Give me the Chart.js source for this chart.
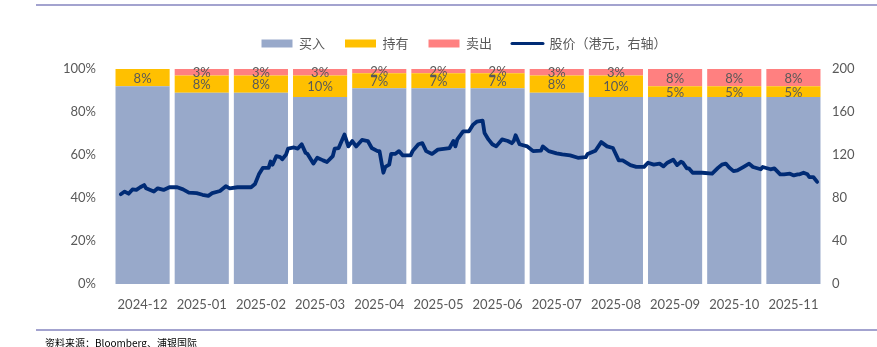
<!DOCTYPE html>
<html>
<head>
<meta charset="utf-8">
<script src="https://cdn.jsdelivr.net/npm/chart.js@4.4.1/dist/chart.umd.min.js"></script>
<style>
  html, body { margin: 0; padding: 0; background: #fff; }
  #wrap { position: relative; width: 877px; height: 347px; overflow: hidden; }
  #chart { position: absolute; left: 0; top: 0; }
  .rule { position: absolute; left: 36px; right: 0; height: 2px; background: #a3a3cf; }
  #source { position: absolute; left: 45px; top: 335px; font: 10px "Noto Sans CJK SC", sans-serif; color: #000; white-space: nowrap; }
</style>
</head>
<body>
<div id="wrap">
  <div class="rule" style="top:4px"></div>
  <canvas id="chart" width="877" height="347"></canvas>
  <div class="rule" style="top:329px"></div>
  <div id="source">资料来源：Bloomberg、浦银国际</div>
</div>
<script>
// Monthly analyst rating mix (%)
const categories = ['2024-12', '2025-01', '2025-02', '2025-03', '2025-04', '2025-05',
                    '2025-06', '2025-07', '2025-08', '2025-09', '2025-10', '2025-11'];
const buyPct  = [92, 89, 89, 87, 91, 91, 91, 89, 87, 87, 87, 87];
const holdPct = [8, 8, 8, 10, 7, 7, 7, 8, 10, 5, 5, 5];
const sellPct = [0, 3, 3, 3, 2, 2, 2, 3, 3, 8, 8, 8];

// Share price (HKD), keyed by days since 2024-12-01
const priceDay = [4, 6, 8, 10, 12, 14, 16, 17, 21, 23, 26, 29, 33, 36, 39, 43, 46, 49, 51, 55,
  58, 60, 64, 71, 73, 75, 77, 80, 81, 82, 84, 86, 87, 89, 90, 93, 95, 97, 99, 100,
  103, 105, 108, 110, 113, 114, 116, 119, 121, 123, 125, 128, 131, 133, 136, 137, 139, 140, 142, 143,
  145, 147, 149, 153, 154, 157, 159, 161, 164, 167, 173, 175, 176, 177, 180, 183, 185, 187, 190, 191,
  193, 195, 197, 200, 203, 205, 206, 207, 209, 213, 216, 220, 221, 224, 228, 231, 235, 239, 243, 244,
  248, 251, 254, 257, 260, 262, 266, 269, 273, 275, 278, 281, 283, 285, 288, 290, 292, 293, 295, 296,
  298, 303, 308, 311, 313, 315, 317, 319, 321, 324, 327, 329, 333, 334, 338, 340, 343, 345, 348, 350,
  352, 353, 355, 357, 358, 360, 362];
const price = [83.5, 86, 84, 88, 87.5, 90, 92, 89, 86, 89, 87.5, 90, 90, 88, 85, 84.5, 83, 82, 84.5, 86.5,
  91, 89, 90, 90, 93, 102, 108, 108, 114, 111, 119, 118, 116, 120.5, 126, 127, 126, 130, 122, 121,
  112, 117.5, 115, 113.5, 119, 126, 126.5, 139, 128, 133, 128, 134, 133, 126.5, 123.6, 123.6, 103.5, 109, 111, 121,
  121, 123.6, 119.6, 119.6, 123.6, 130, 131, 123.6, 121, 125, 126.5, 133, 128, 134.5, 142, 142, 148, 151, 152, 140.5,
  134.5, 130, 128, 134.5, 133, 131, 133, 138.4, 130, 128, 123.6, 124, 128, 123.6, 121.5, 120.5, 119.6, 117.4, 118, 121,
  124, 132, 128, 126.5, 115, 115, 110.6, 109, 109, 112.8, 111, 112, 109.4, 112.8, 115.6, 110.6, 113.7, 112.8, 107.6, 107.6,
  103.5, 103.5, 102.6, 108, 111, 112, 108, 105, 105.7, 108.8, 112, 108.8, 106.7, 108.8, 106.7, 107.6, 102, 102, 102.6, 101,
  102, 102, 103.5, 102, 99.5, 99.5, 95];

const TEXT = '#595959';
const tickFont = { family: 'Lato', size: 13 };

// Percentage labels inside the hold / sell segments
const segmentLabels = {
  id: 'segmentLabels',
  afterDatasetsDraw(chart) {
    const ctx = chart.ctx;
    ctx.save();
    ctx.font = '13px Lato';
    ctx.fillStyle = TEXT;
    ctx.textAlign = 'center';
    ctx.textBaseline = 'middle';
    chart.data.datasets.forEach((ds, di) => {
      if (!ds.showValues) return;
      const meta = chart.getDatasetMeta(di);
      meta.data.forEach((bar, i) => {
        const v = ds.data[i];
        if (!v) return;
        const yc = (bar.y + bar.base) / 2;
        ctx.fillText(v + '%', bar.x, yc + 1);
      });
    });
    ctx.restore();
  }
};

// Extra room below the legend row
const legendGap = {
  id: 'legendGap',
  beforeLayout(chart) {
    const lg = chart.legend;
    if (lg && !lg._gapPatched) {
      const fit = lg.fit;
      lg.fit = function () { fit.call(this); this.height += 9; };
      lg._gapPatched = true;
    }
  }
};

const barCommon = { categoryPercentage: 1, barPercentage: 0.915, grouped: false, order: 1,
                    xAxisID: 'x', yAxisID: 'y' };

new Chart(document.getElementById('chart'), {
  data: {
    labels: categories,
    datasets: [
      Object.assign({ type: 'bar', label: '买入', data: buyPct, backgroundColor: '#98a9ca' }, barCommon),
      Object.assign({ type: 'bar', label: '持有', data: holdPct, backgroundColor: '#ffc000', showValues: true }, barCommon),
      Object.assign({ type: 'bar', label: '卖出', data: sellPct, backgroundColor: '#ff8080', showValues: true }, barCommon),
      { type: 'line', label: '股价（港元，右轴）',
        data: priceDay.map((d, i) => ({ x: d, y: price[i] })),
        borderColor: '#002b75', borderWidth: 3.8, pointRadius: 0, tension: 0,
        borderJoinStyle: 'round', borderCapStyle: 'round',
        order: 0, xAxisID: 'x2', yAxisID: 'y1' }
    ]
  },
  options: {
    responsive: false,
    animation: false,
    events: [],
    layout: { padding: { left: 51, right: 0, top: 17, bottom: 24 } },
    scales: {
      x: {
        type: 'category', stacked: true, offset: true,
        grid: { display: false, drawTicks: false }, border: { display: false },
        ticks: { font: tickFont, color: TEXT, padding: 13, maxRotation: 0, autoSkip: false },
        afterFit(s) { s.height = 39; }
      },
      x2: { type: 'linear', display: false, min: 0, max: 365, offset: false },
      y: {
        position: 'left', stacked: true, min: 0, max: 100,
        grid: { display: false, drawTicks: false }, border: { display: false },
        ticks: { stepSize: 20, font: tickFont, color: TEXT, padding: 17, callback: v => v + '%' },
        afterFit(s) { s.width = 62; }
      },
      y1: {
        position: 'right', min: 0, max: 200,
        grid: { display: false, drawTicks: false }, border: { display: false },
        ticks: { stepSize: 40, font: tickFont, color: TEXT, padding: 9 },
        afterFit(s) { s.width = 54; }
      }
    },
    plugins: {
      tooltip: { enabled: false },
      legend: {
        position: 'top',
        labels: {
          font: { family: '"Noto Sans CJK SC"', size: 13 },
          color: TEXT,
          usePointStyle: true,
          pointStyleWidth: 31,
          boxHeight: 8,
          padding: 20,
          sort: (a, b) => a.datasetIndex - b.datasetIndex,
          generateLabels(chart) {
            return chart.data.datasets.map((ds, i) => {
              const isLine = ds.type === 'line';
              return {
                text: ds.label,
                datasetIndex: i,
                fillStyle: isLine ? ds.borderColor : ds.backgroundColor,
                strokeStyle: isLine ? ds.borderColor : ds.backgroundColor,
                lineWidth: isLine ? 3 : 0,
                lineCap: 'round',
                pointStyle: isLine ? 'line' : 'rect',
                fontColor: TEXT,
                hidden: false
              };
            });
          }
        }
      }
    }
  },
  plugins: [segmentLabels, legendGap]
});
</script>
</body>
</html>
